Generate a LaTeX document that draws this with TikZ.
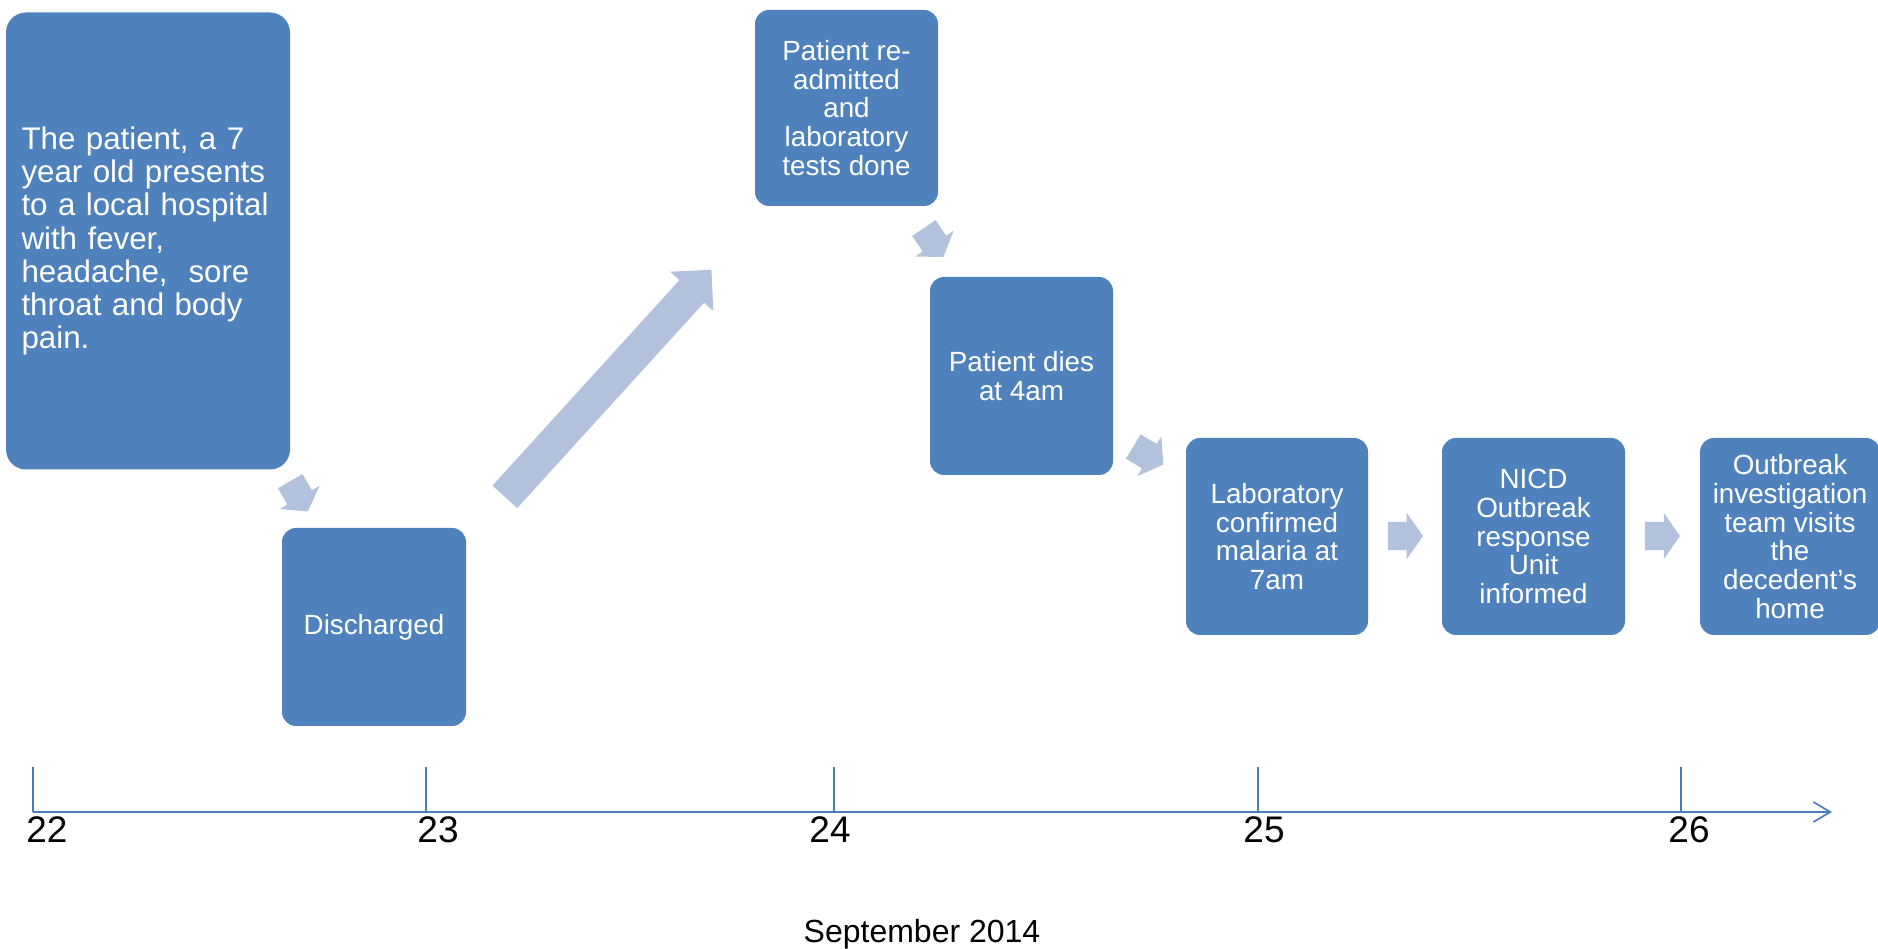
\documentclass[tikz,border=0pt]{standalone}
\usepackage{fontspec}
\setmainfont{Liberation Sans}
\usetikzlibrary{shapes.arrows,arrows.meta}
\definecolor{boxblue}{RGB}{79,129,189}
\definecolor{arrowblue}{RGB}{179,194,220}
\definecolor{axisblue}{RGB}{74,126,187}
\begin{document}
\begin{tikzpicture}[x=1pt, y=1pt, node distance=256.5pt]
\tikzstyle{block} = [rectangle, rounded corners=14pt, fill=boxblue, text=white, align=center, inner sep=0pt, minimum width=183pt, minimum height=197pt, font=\fontsize{27.8}{28.7}\selectfont]
\tikzstyle{bigblock} = [block, rounded corners=20pt, align=left, text width=253pt, minimum width=284pt, minimum height=457pt, font=\fontsize{31.3}{33.3}\selectfont]
\tikzstyle{step arrow} = [single arrow, fill=arrowblue, inner xsep=0pt, inner ysep=14pt, minimum height=35pt, single arrow head extend=9pt, single arrow tip angle=110]
\tikzstyle{axisline} = [axisblue, line width=1.7pt]
\tikzstyle{daylabel} = [anchor=base, font=\fontsize{37}{40}\selectfont]
\useasboundingbox (0,0) rectangle (1878,949);
%
\node (presents)   [bigblock] at (148,708)  {The patient, a 7\\year old presents\\to a local hospital\\with fever,\\headache,~ sore\\throat and body\\pain.};
\node (discharged) [block, minimum width=184pt, minimum height=198pt] at (374,322) {Discharged};
\node (readmitted) [block, minimum height=196pt] at (846.5,841) {Patient re-\\admitted\\and\\laboratory\\tests done};
\node (dies)       [block, minimum height=198pt] at (1021.5,573) {Patient dies\\at 4am};
\node (confirmed)  [block, minimum width=182pt] at (1277,412.5) {Laboratory\\confirmed\\malaria at\\7am};
\node (nicd)       [block, right of=confirmed] {NICD\\Outbreak\\response\\Unit\\informed};
\node (visit)      [block, right of=nicd, minimum width=180pt] {Outbreak\\investigation\\team visits\\the\\decedent’s\\home};
%
\node (toDischarged) [step arrow, rotate=-60] at (296.5,457)   {};
\node (toReadmitted) [step arrow, minimum height=307pt, inner ysep=16.5pt, single arrow head extend=12.5pt, single arrow tip angle=90, rotate=47.7] at (602.5,559.5) {};
\node (toDies)       [step arrow, rotate=-56] at (930.9,710.6) {};
\node (toConfirmed)  [step arrow, rotate=-31] at (1144,496) {};
\node (toNicd)       [step arrow] at (1400.5,413) {};
\node (toVisit)      [step arrow] at (1657.5,413) {};
%
\coordinate (axisstart) at (33,137);
\coordinate (axisend)   at (1832,137);
\coordinate (tick23)    at (426,182);
\coordinate (tick24)    at (834,182);
\coordinate (tick25)    at (1258,182);
\coordinate (tick26)    at (1681,182);
\draw [axisline, -{Straight Barb[length=17pt, width=20pt]}] (axisstart) -- (axisend);
\draw [axisline] (axisstart) -- ++(0,45);
\draw [axisline] (tick23) -- (tick23 |- axisstart);
\draw [axisline] (tick24) -- (tick24 |- axisstart);
\draw [axisline] (tick25) -- (tick25 |- axisstart);
\draw [axisline] (tick26) -- (tick26 |- axisstart);
%
\node (day22) [daylabel] at (47,106)   {22};
\node (day23) [daylabel] at (438,106)  {23};
\node (day24) [daylabel] at (830,106)  {24};
\node (day25) [daylabel] at (1264,106) {25};
\node (day26) [daylabel] at (1689,106) {26};
\node (month) [anchor=base, font=\fontsize{32}{34}\selectfont] at (922,6) {September 2014};
\end{tikzpicture}
\end{document}
